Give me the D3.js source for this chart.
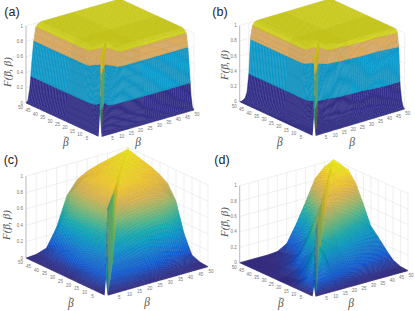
<!DOCTYPE html>
<html><head><meta charset="utf-8">
<script src="https://cdn.jsdelivr.net/npm/d3@7/dist/d3.min.js"></script>
<style>html,body{margin:0;background:#fff}svg{display:block}</style></head>
<body><svg id="c" width="415" height="311"></svg>
<script>
// ---- data ----
const axisTicks = [5,10,15,20,25,30,35,40,45,50];
const zTicks = [0,0.2,0.4,0.6,0.8,1];
const bandThresholds = [0.33,0.78,0.95];
const bandColors = ["#35308f","#0f9fd0","#e0ae62","#dcdc1e"];
const parulaStops = ["#352a87","#0f5cdd","#127dd8","#079ccf","#15b1b4","#59bd8c","#a5be6b","#e1b952","#fcce2e","#f9fb0e"];

const nodesA = [0,1,2,3,4,5,6,8,10,15,20,30,50];
const tableA = [
 [0],
 [0,.02],
 [0,.03,.08],
 [0,.03,.10,.12],
 [0,.03,.12,.18,.20],
 [0,.03,.14,.22,.26,.26],
 [0,.03,.15,.25,.28,.26,.24],
 [0,.03,.18,.33,.38,.38,.35,.40],
 [0,.03,.18,.38,.55,.60,.60,.70,.78],
 [0,.03,.18,.50,.76,.93,.96,.98,.98,1],
 [0,.03,.18,.50,.76,.93,.98,1,1,1,1],
 [0,.03,.18,.50,.76,.93,.98,1,1,1,1,1],
 [0,.03,.18,.50,.76,.93,.98,1,1,1,1,1,1]
];
const ridgeNodesA = [0,1,2,3,50];
const ridgeA = [0,.3,.7,1,1];

const nodesB = [0,1,2,3,4,5,6,7,8,10,15,20,30,50];
const tableB = [
 [0,0,0,0,0,0,0,0,0,0,0,0,0,0],
 [0,.01,.01,.01,.01,.01,.01,.01,.01,.01,.01,.01,.01,.02],
 [0,.01,.02,.02,.02,.02,.02,.02,.02,.02,.02,.03,.04,.10],
 [0,.01,.02,.03,.03,.03,.03,.03,.03,.03,.03,.04,.06,.28],
 [0,.01,.02,.03,.05,.05,.05,.05,.04,.04,.04,.06,.15,.80],
 [0,.01,.02,.03,.07,.10,.10,.09,.08,.05,.06,.12,.32,.97],
 [0,.01,.02,.03,.08,.12,.15,.15,.15,.10,.20,.45,.85,1],
 [0,.01,.02,.03,.09,.15,.20,.22,.25,.20,.40,.90,.98,1],
 [0,.01,.02,.03,.08,.15,.22,.28,.32,.42,.95,1,1,1],
 [0,.01,.02,.03,.10,.22,.33,.38,.42,.70,1,1,1,1],
 [0,0,.01,.03,.10,.30,.80,.95,.97,.97,1,1,1,1],
 [0,0,.01,.03,.10,.33,.82,.95,.99,1,1,1,1,1],
 [0,0,.01,.03,.10,.33,.82,.95,.99,1,1,1,1,1],
 [0,0,.01,.03,.10,.33,.82,.95,.99,1,1,1,1,1]
];
const ridgeNodesB = [0,1,2,3,50];
const ridgeB = [0,.3,.7,1,1];

const nodesC = [0,5,10,15,20,25,30,35,40,45,50];
const tableC = [
 [0],
 [0,.05],
 [0,.08,.15],
 [0,.08,.20,.35],
 [0,.07,.22,.45,.72],
 [0,.05,.25,.50,.78,.90],
 [0,.04,.25,.52,.80,.90,.93],
 [0,.03,.17,.55,.80,.89,.92,.94],
 [0,.03,.12,.55,.78,.88,.91,.93,.95],
 [0,.02,.08,.45,.75,.85,.88,.92,.94,.96],
 [0,.01,.05,.27,.62,.78,.85,.89,.92,.95,.98]
];
const ridgeNodesC = [0,1,2,3,4,25,50];
const ridgeC = [0,.3,.6,.85,1,.96,.98];

const nodesD = [0,5,10,15,20,25,30,35,40,45,50];
const tableD = [
 [0,0,0,0,0,0,0,0,0,0,0],
 [0,.10,.10,.07,.05,.04,.03,.02,.02,.01,.01],
 [0,.15,.55,.27,.20,.17,.13,.10,.08,.06,.05],
 [0,.05,.30,.50,.42,.35,.30,.24,.20,.17,.15],
 [0,.02,.10,.30,.70,.60,.50,.42,.35,.30,.26],
 [0,.01,.05,.20,.60,.78,.70,.62,.55,.45,.36],
 [0,.01,.03,.12,.35,.62,.82,.82,.77,.70,.60],
 [0,0,.01,.04,.10,.32,.62,.86,.90,.88,.82],
 [0,0,0,.02,.05,.20,.50,.78,.92,.95,.95],
 [0,0,0,.01,.03,.12,.35,.68,.88,.97,.98],
 [0,0,0,0,.01,.08,.30,.55,.82,.94,1]
];
const ridgeNodesD = [0,1,2,3,4,5,10,15,20,30,50];
const ridgeD = [0,.2,.4,.6,.75,.8,.86,.9,.93,.95,1];

// ---- layout ----
const panels = [
 {tag:"(a)",tx:12,ty:12, O:[100,137],L:[26,103],R:[194,110],h:77, nodes:nodesA,table:tableA,rn:ridgeNodesA,rv:ridgeA,skip:1,slit:.3,band:true,
  yl:[8,72],bt:[63,146],bl:[138,146]},
 {tag:"(b)",tx:220,ty:12, O:[314,136],L:[239.7,101.7],R:[404.7,109],h:76, nodes:nodesB,table:tableB,rn:ridgeNodesB,rv:ridgeB,skip:1,slit:.25,band:true,
  yl:[225,65],bt:[277,146],bl:[352,146]},
 {tag:"(c)",tx:11,ty:160, O:[106,295.7],L:[26,258],R:[208,266.7],h:81.7, nodes:nodesC,table:tableC,rn:ridgeNodesC,rv:ridgeC,skip:1,slit:.2,band:false,
  yl:[7,225],bt:[68,307],bl:[147,306]},
 {tag:"(d)",tx:222,ty:160, O:[314,296.7],L:[239.7,262.7],R:[408,270.7],h:77, nodes:nodesD,table:tableD,rn:ridgeNodesD,rv:ridgeD,skip:.5,slit:.13,band:false,
  yl:[225,222],bt:[278,307],bl:[351,307]}
];

const svg = d3.select("#c");
const samples = d3.range(0,25,.5).concat(d3.range(25,51));
const parula = d3.scaleLinear().domain(parulaStops.map((_,i)=>i/(parulaStops.length-1))).range(parulaStops).clamp(true);
const bandEdges = [0].concat(bandThresholds,[1.001]);

// cut a polygon of [x,y,z] corners to lo<=z<hi so that band borders are true contours
function clipZ(poly,lo,hi){
  const cut=(pts,keep,lim)=>{
    const out=[];
    pts.forEach((c,i)=>{
      const d=pts[(i+1)%pts.length],ki=keep(c[2]),kj=keep(d[2]);
      if(ki) out.push(c);
      if(ki!==kj){const t=(lim-c[2])/(d[2]-c[2]);out.push([c[0]+t*(d[0]-c[0]),c[1]+t*(d[1]-c[1]),lim]);}
    });
    return out;
  };
  let r=cut(poly,z=>z>=lo,lo);
  if(r.length) r=cut(r,z=>z<hi,hi);
  return r;
}

panels.forEach(p=>{
  const g = svg.append("g");
  const n = p.nodes.length;
  const cell=(i,j)=>{const r=p.table[i]; return j<r.length?r[j]:p.table[j][i];};
  const ridge=d3.scaleLinear().domain(p.rn).range(p.rv);
  const find=v=>Math.min(n-2,d3.bisectRight(p.nodes,v)-1);
  const surf=(a,b)=>{
    if(a===b && a>0) return ridge(a);
    const i=find(a),j=find(b);
    const u=(a-p.nodes[i])/(p.nodes[i+1]-p.nodes[i]), v=(b-p.nodes[j])/(p.nodes[j+1]-p.nodes[j]);
    return cell(i,j)*(1-u)*(1-v)+cell(i+1,j)*u*(1-v)+cell(i,j+1)*(1-u)*v+cell(i+1,j+1)*u*v;
  };
  const ax=d3.scaleLinear().domain([0,50]).range([0,p.L[0]-p.O[0]]), ay=d3.scaleLinear().domain([0,50]).range([0,p.L[1]-p.O[1]]);
  const bx=d3.scaleLinear().domain([0,50]).range([0,p.R[0]-p.O[0]]), by=d3.scaleLinear().domain([0,50]).range([0,p.R[1]-p.O[1]]);
  const zs=d3.scaleLinear().domain([0,1]).range([0,-p.h]);
  const pr=(a,b,z)=>[p.O[0]+ax(a)+bx(b), p.O[1]+ay(a)+by(b)+zs(z), z];
  const ln=d3.line().x(d=>d[0]).y(d=>d[1]);

  // back walls
  const grid=[];
  zTicks.forEach(z=>{grid.push([pr(50,0,z),pr(50,50,z)]);grid.push([pr(0,50,z),pr(50,50,z)]);});
  [0].concat(axisTicks).forEach(t=>{grid.push([pr(50,t,0),pr(50,t,1)]);grid.push([pr(t,50,0),pr(t,50,1)]);});
  g.append("g").selectAll("path").data(grid).join("path").attr("d",ln).attr("fill","none").attr("stroke","#dedede").attr("stroke-width",.5);

  // axes
  const axes=[[pr(0,0,0),pr(50,0,0)],[pr(0,0,0),pr(0,50,0)],[pr(50,0,0),pr(50,0,1)]];
  g.append("g").selectAll("path").data(axes).join("path").attr("d",ln).attr("fill","none").attr("stroke","#888").attr("stroke-width",.5);

  // surface, far cells first
  const quads=[];
  for(let i=samples.length-2;i>=0;i--)for(let j=samples.length-2;j>=0;j--){
    const a0=samples[i],a1=samples[i+1],b0=samples[j],b1=samples[j+1];
    if(Math.abs(i-j)<=1 && Math.min(a0,b0)<p.skip) continue;
    const zz=[surf(a0,b0),surf(a1,b0),surf(a1,b1),surf(a0,b1)];
    const pts=[pr(a0,b0,zz[0]),pr(a1,b0,zz[1]),pr(a1,b1,zz[2]),pr(a0,b1,zz[3])];
    const hi=d3.max(zz),lo=d3.min(zz);
    if(i===j && hi-lo>.08){
      quads.push({pts,fill:parula(hi),dark:.5,w:.2});
    } else if(p.band){
      bandColors.forEach((c,k)=>{
        if(hi<bandEdges[k]||lo>=bandEdges[k+1]) return;
        const piece=clipZ(pts,bandEdges[k],bandEdges[k+1]);
        if(piece.length>2) quads.push({pts:piece,fill:c,dark:.5,w:.33});
      });
    } else {
      quads.push({pts,fill:parula(d3.mean(zz)),dark:.5,w:.33});
    }
  }
  g.append("g").selectAll("path").data(quads).join("path")
    .attr("d",d=>ln(d.pts)+"Z")
    .attr("fill",d=>d.fill)
    .attr("stroke",d=>d3.color(d.fill).darker(d.dark))
    .attr("stroke-width",d=>d.w);

  // open slit at the front corner
  const base=pr(0,0,0), tip=pr(0,0,p.slit);
  g.append("path").attr("d",ln([[base[0]-1.5,base[1]+.5],[tip[0],tip[1]],[base[0]+1.5,base[1]+.5]])+"Z").attr("fill","#fff");

  // tick labels
  const tick=g.append("g").attr("font-family","Liberation Sans, Arial, sans-serif").attr("font-size",4.5).attr("fill","#777").attr("text-anchor","middle");
  tick.selectAll("text.a").data(axisTicks).join("text").attr("class","a").text(d=>d)
    .attr("x",d=>pr(d,0,0)[0]-5.5).attr("y",d=>pr(d,0,0)[1]+6);
  tick.selectAll("text.b").data(axisTicks).join("text").attr("class","b").text(d=>d)
    .attr("x",d=>pr(0,d,0)[0]+3).attr("y",d=>pr(0,d,0)[1]+6);
  tick.selectAll("text.z").data(zTicks).join("text").attr("class","z").text(d=>d)
    .attr("text-anchor","end").attr("x",d=>pr(50,0,d)[0]-3).attr("y",d=>pr(50,0,d)[1]+1.5);

  // labels
  const serif="Liberation Serif, DejaVu Serif, serif";
  const yl=g.append("text").attr("font-family",serif).attr("font-style","italic").attr("font-size",11).attr("fill","#555")
    .attr("text-anchor","middle").attr("transform",`translate(${p.yl[0]+3},${p.yl[1]}) rotate(-90)`);
  yl.append("tspan").text("F(β");
  yl.append("tspan").text("~").attr("font-size",7).attr("dx",-5).attr("dy",-4.5);
  yl.append("tspan").text(", β)").attr("dx",.6).attr("dy",4.5);
  const bt=g.append("text").attr("font-family",serif).attr("font-style","italic").attr("font-size",11.5).attr("fill","#555")
    .attr("x",p.bt[0]).attr("y",p.bt[1]);
  bt.append("tspan").text("β");
  bt.append("tspan").text("~").attr("font-size",7).attr("dx",-5.2).attr("dy",-7);
  g.append("text").text("β").attr("font-family",serif).attr("font-style","italic").attr("font-size",11.5).attr("fill","#555")
    .attr("text-anchor","middle").attr("x",p.bl[0]).attr("y",p.bl[1]);
  g.append("text").text(p.tag).attr("font-family","Liberation Sans, Arial, sans-serif").attr("font-size",12.5).attr("fill","#222")
    .attr("text-anchor","middle").attr("x",p.tx).attr("y",p.ty+4);
});
</script></body></html>
